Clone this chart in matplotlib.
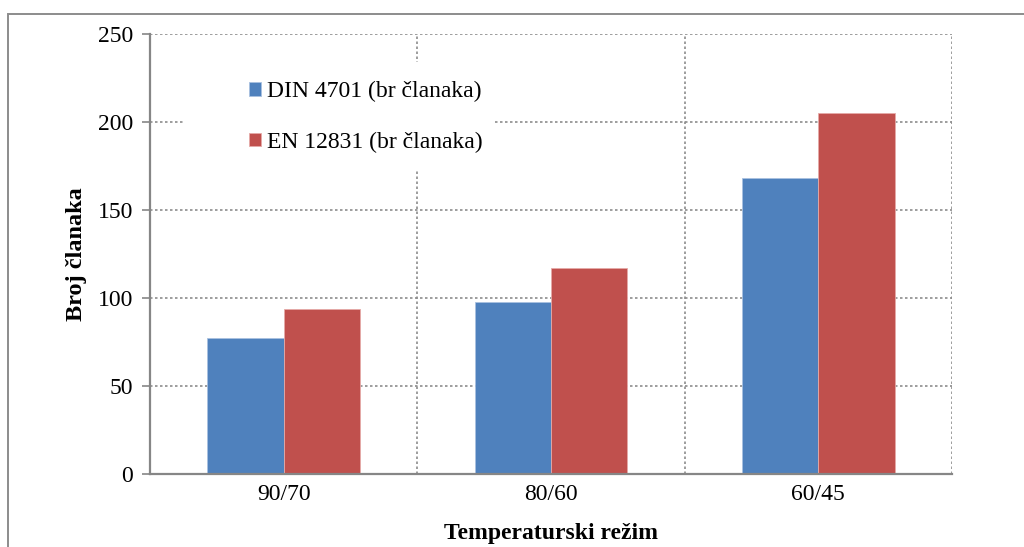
import matplotlib
matplotlib.use("Agg")
import matplotlib.pyplot as plt
import numpy as np
from matplotlib.patches import Rectangle

categories = ["90/70", "80/60", "60/45"]
din_values = [77, 98, 168]
en_values = [94, 117, 205]
series_names = ["DIN 4701 (br članaka)", "EN 12831 (br članaka)"]
yticks = [0, 50, 100, 150, 200, 250]

plt.rcParams['font.family'] = ['Liberation Serif', 'DejaVu Serif']

fig = plt.figure(figsize=(10.24, 5.47), dpi=100)
W, H = 1024, 547
AX_L, AX_R, AX_T, AX_B = 150, 952, 34, 474
ax = fig.add_axes([AX_L / W, 1 - AX_B / H, (AX_R - AX_L) / W, (AX_B - AX_T) / H])


def axfrac(px, py):
    return (px - AX_L) / (AX_R - AX_L), (AX_B - py) / (AX_B - AX_T)


x = np.arange(len(categories))
bw = 0.285
grid_col = "#8c8c8c"
ax.bar(x - bw / 2, din_values, bw, color="#4F81BD", edgecolor="#a9c1e0", linewidth=0.6,
       label=series_names[0], zorder=3)
ax.bar(x + bw / 2, en_values, bw, color="#C0504D", edgecolor="#e6aaa8", linewidth=0.6,
       label=series_names[1], zorder=3)

ax.set_xlim(-0.5, 2.5)
ax.set_ylim(0, 250)
ax.set_yticks(yticks)
ax.set_xticks(x)
ax.set_xticklabels(categories)

for yv in yticks[1:]:
    ax.axhline(yv, color=grid_col, linestyle=(0, (1.5, 1.5)), linewidth=1.2, zorder=1)
for xv in [0.5, 1.5, 2.5]:
    ax.axvline(xv, color=grid_col, linestyle=(0, (1.5, 1.5)), linewidth=1.2, zorder=1)

# white legend area covering gridlines
x0, y0 = axfrac(185, 170)
x1, y1 = axfrac(495, 62)
ax.add_patch(Rectangle((x0, y0), x1 - x0, y1 - y0, transform=ax.transAxes,
                       facecolor="white", edgecolor="none", zorder=2))

for s in ["top", "right"]:
    ax.spines[s].set_visible(False)
for s in ["left", "bottom"]:
    ax.spines[s].set_color("#868686")
    ax.spines[s].set_linewidth(1.6)
    ax.spines[s].set_zorder(4)

ax.tick_params(axis="y", direction="out", length=6, width=1.2, color="#868686",
               labelsize=17, pad=6)
ax.tick_params(axis="x", length=0, labelsize=17, pad=7)

ax.set_xlabel("Temperaturski režim", fontsize=17, fontweight="bold", labelpad=13)
ax.set_ylabel("Broj članaka", fontsize=17.5, fontweight="bold", labelpad=8)

lx, ly = axfrac(249, 117)
leg = ax.legend(loc="center left", bbox_to_anchor=(lx, ly),
                frameon=False, fontsize=17, handlelength=0.5, handleheight=0.5,
                handletextpad=0.25, labelspacing=1.25, borderpad=0, borderaxespad=0)
leg.set_zorder(5)

fig.patches.append(Rectangle((8 / W, -0.1), 1.2, 1 - 14 / H + 0.1, transform=fig.transFigure,
                             fill=False, edgecolor="#8c8c8c", linewidth=1.4))

fig.savefig("out.png", dpi=100)
